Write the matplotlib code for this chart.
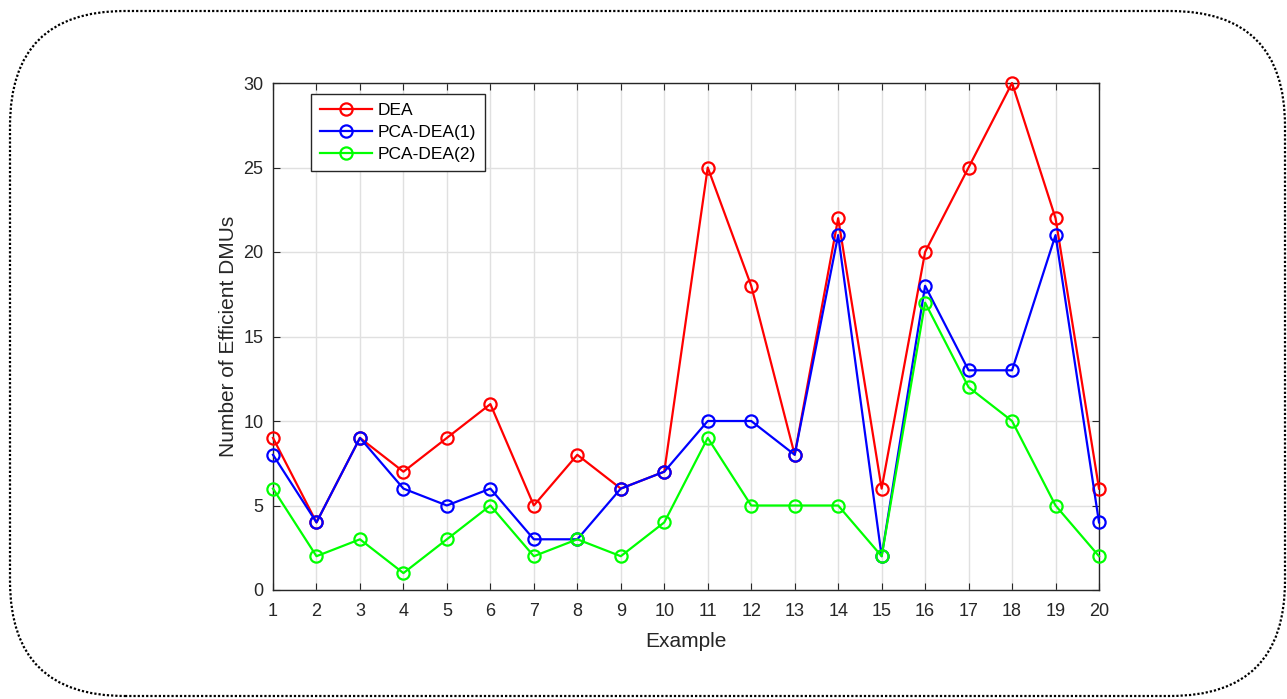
import matplotlib
matplotlib.use("Agg")
import matplotlib.pyplot as plt
from matplotlib.patches import FancyBboxPatch
from matplotlib.transforms import IdentityTransform

examples = list(range(1, 21))
dea = [9, 4, 9, 7, 9, 11, 5, 8, 6, 7, 25, 18, 8, 22, 6, 20, 25, 30, 22, 6]
pca_dea1 = [8, 4, 9, 6, 5, 6, 3, 3, 6, 7, 10, 10, 8, 21, 2, 18, 13, 13, 21, 4]
pca_dea2 = [6, 2, 3, 1, 3, 5, 2, 3, 2, 4, 9, 5, 5, 5, 2, 17, 12, 10, 5, 2]
series_names = ["DEA", "PCA-DEA(1)", "PCA-DEA(2)"]
yticks = [0, 5, 10, 15, 20, 25, 30]

plt.rcParams['font.family'] = ['Liberation Sans', 'DejaVu Sans']

W, H = 1287, 699
fig = plt.figure(figsize=(W / 100, H / 100), dpi=100)
ax = fig.add_axes([273 / W, (H - 590) / H, 826 / W, 507 / H])

# Rounded dotted border (pixel coordinates)
border = FancyBboxPatch((10, H - 696), 1275, 685,
                        boxstyle="round,pad=0,rounding_size=115",
                        transform=IdentityTransform(), fill=False,
                        edgecolor='black', linestyle=(0, (1, 0.9)), linewidth=1.6)
fig.patches.append(border)

for vals, color, name in zip([dea, pca_dea1, pca_dea2], ['#ff0000', '#0000ff', '#00ff00'], series_names):
    ax.plot(examples, vals, color=color, linewidth=1.6, marker='o', markersize=8.8,
            markerfacecolor='none', markeredgewidth=1.6, label=name, clip_on=False, zorder=3)

ax.set_xlim(1, 20)
ax.set_ylim(0, 30)
ax.set_xticks(examples)
ax.set_yticks(yticks)
ax.grid(True, color='#e0e0e0', linewidth=1)
ax.set_axisbelow(True)
ax.tick_params(direction='in', top=True, right=True, labelsize=13, colors='#262626', length=5)
ax.tick_params(axis='x', pad=9)
ax.tick_params(axis='y', pad=7)
for s in ax.spines.values():
    s.set_color('#262626')
    s.set_linewidth(1)
ax.set_xlabel("Example", fontsize=15, color='#262626', labelpad=9)
ax.set_ylabel("Number of Efficient DMUs", fontsize=15, color='#262626', labelpad=4)

leg = ax.legend(loc='upper left', bbox_to_anchor=(0.046, 0.978), fontsize=12.5,
                frameon=True, fancybox=False, edgecolor='#262626', framealpha=1,
                handlelength=3.0, borderpad=0.5, labelspacing=0.4, handletextpad=0.35,
                borderaxespad=0)
leg.get_frame().set_linewidth(1)

fig.savefig("out.png", dpi=100)
